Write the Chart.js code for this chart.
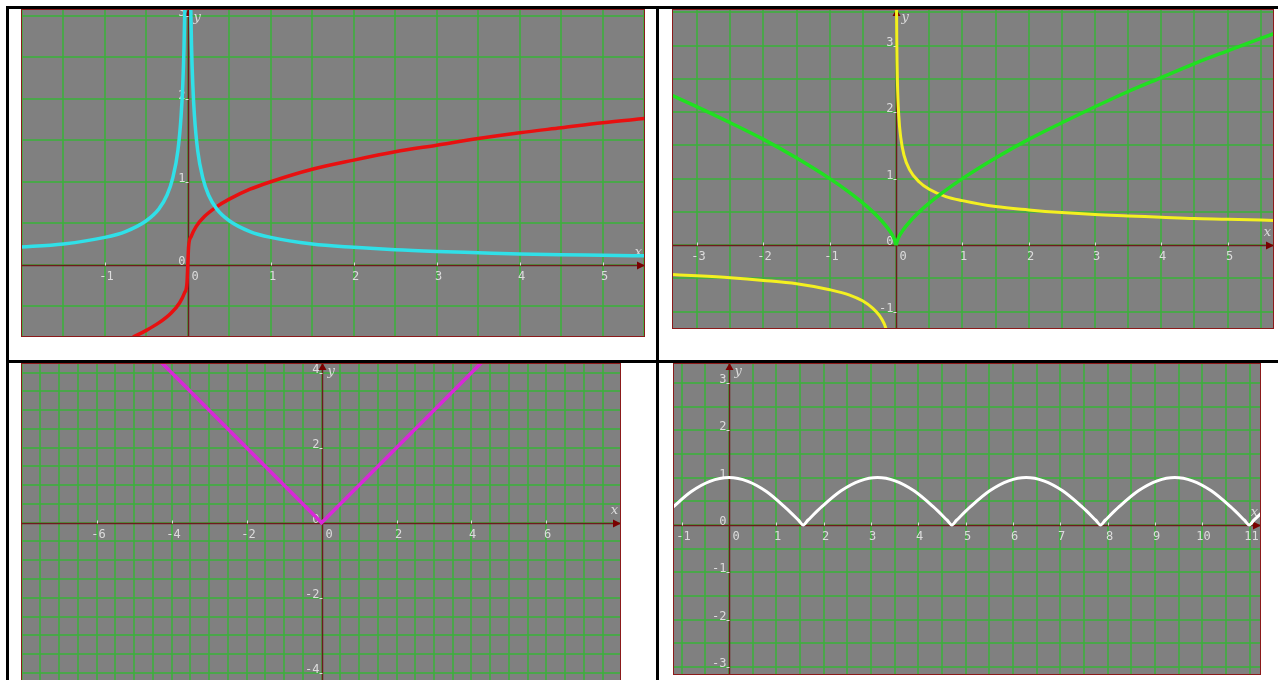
<!DOCTYPE html>
<html>
<head>
<meta charset="utf-8">
<title>Graphs</title>
<script src="https://cdn.jsdelivr.net/npm/chart.js@4.4.1/dist/chart.umd.min.js"></script>
<style>
  html, body { margin: 0; padding: 0; background: #fff; overflow: hidden; }
  body { width: 1278px; height: 680px; position: relative; }
  .rule { position: absolute; background: #000; }
  .plot { position: absolute; }
</style>
</head>
<body>
<div class="rule" style="left:6px;top:6px;width:1272px;height:3px"></div>
<div class="rule" style="left:6px;top:6px;width:3px;height:674px"></div>
<div class="rule" style="left:656px;top:6px;width:3px;height:674px"></div>
<div class="rule" style="left:6px;top:360px;width:1272px;height:3px"></div>

<div class="plot" style="left:21px;top:9px;width:624px;height:328px"><canvas id="g1"></canvas></div>
<div class="plot" style="left:672px;top:9px;width:602px;height:320px"><canvas id="g2"></canvas></div>
<div class="plot" style="left:21px;top:363px;width:600px;height:327px"><canvas id="g3"></canvas></div>
<div class="plot" style="left:673px;top:363px;width:588px;height:312px"><canvas id="g4"></canvas></div>

<script>
// --- data ---
// top left: red curve and cyan curve (two branches)
const redX = [-0.66, -0.5, -0.35, -0.2, -0.1, -0.04, -0.01, 0, 0.01, 0.04, 0.1, 0.2, 0.35, 0.5, 0.75, 1, 1.5, 2, 2.5, 3, 3.5, 4, 4.5, 5, 5.5];
const redY = [-0.87, -0.79, -0.7, -0.58, -0.46, -0.34, -0.22, 0, 0.22, 0.34, 0.46, 0.58, 0.7, 0.79, 0.91, 1, 1.15, 1.26, 1.36, 1.44, 1.52, 1.59, 1.65, 1.71, 1.76];
const cyanLeftX = [-2.05, -1.5, -1, -0.75, -0.5, -0.35, -0.25, -0.18, -0.12, -0.08, -0.06, -0.045, -0.033];
const cyanLeftY = [0.21, 0.25, 0.33, 0.4, 0.53, 0.67, 0.84, 1.05, 1.37, 1.8, 2.18, 2.64, 3.24];
const cyanRightX = [0.033, 0.045, 0.06, 0.08, 0.12, 0.18, 0.25, 0.35, 0.5, 0.75, 1, 1.5, 2, 2.5, 3, 3.5, 4, 4.5, 5, 5.55];
const cyanRightY = [3.24, 2.64, 2.18, 1.8, 1.37, 1.05, 0.84, 0.67, 0.53, 0.4, 0.33, 0.25, 0.21, 0.18, 0.16, 0.145, 0.13, 0.12, 0.115, 0.107];

// top right: green curve (cusp at 0) and yellow curve
const greenLeftX = [-3.4, -3, -2.5, -2, -1.5, -1, -0.7, -0.45, -0.25, -0.1, -0.03, 0];
const greenLeftY = [2.26, 2.08, 1.84, 1.59, 1.31, 1, 0.79, 0.59, 0.4, 0.22, 0.1, 0];
const greenRightX = [0, 0.03, 0.1, 0.25, 0.45, 0.7, 1, 1.5, 2, 2.5, 3, 3.5, 4, 4.5, 5, 5.75];
const greenRightY = [0, 0.1, 0.22, 0.4, 0.59, 0.79, 1, 1.31, 1.59, 1.84, 2.08, 2.31, 2.52, 2.73, 2.92, 3.2];
const yellowLeftX = [-3.4, -3, -2.5, -2, -1.5, -1, -0.7, -0.5, -0.35, -0.25, -0.18, -0.14];
const yellowLeftY = [-0.44, -0.46, -0.49, -0.53, -0.58, -0.67, -0.75, -0.84, -0.95, -1.06, -1.18, -1.29];
const yellowRightX = [0.006, 0.01, 0.02, 0.04, 0.07, 0.12, 0.2, 0.35, 0.5, 0.75, 1, 1.5, 2, 2.5, 3, 3.5, 4, 4.5, 5, 5.75];
const yellowRightY = [3.67, 3.1, 2.46, 1.95, 1.62, 1.35, 1.14, 0.95, 0.84, 0.73, 0.67, 0.58, 0.53, 0.49, 0.46, 0.44, 0.42, 0.4, 0.39, 0.37];

// bottom left: magenta V
const magentaX = [-8, -4, 0, 4, 8];
const magentaY = [8, 4, 0, 4, 8];

// bottom right: white arches
const whiteX = [-1.2, -0.8, -0.4, 0, 0.4, 0.8, 1.2, 1.47, 1.57,
  1.67, 1.97, 2.37, 2.77, 3.14, 3.51, 3.91, 4.31, 4.61, 4.71,
  4.81, 5.11, 5.51, 5.91, 6.28, 6.65, 7.05, 7.45, 7.75, 7.85,
  7.95, 8.25, 8.65, 9.05, 9.42, 9.79, 10.19, 10.59, 10.89, 10.99,
  11.09, 11.3];
const whiteY = [0.36, 0.7, 0.92, 1, 0.92, 0.7, 0.36, 0.1, 0,
  0.1, 0.39, 0.72, 0.93, 1, 0.93, 0.72, 0.39, 0.1, 0,
  0.1, 0.39, 0.72, 0.93, 1, 0.93, 0.72, 0.39, 0.1, 0,
  0.1, 0.39, 0.72, 0.93, 1, 0.93, 0.72, 0.39, 0.1, 0,
  0.1, 0.3];

// tick labels per graph
const ticks1X = [-1, 0, 1, 2, 3, 4, 5];
const ticks1Y = [0, 1, 2, 3];
const ticks2X = [-3, -2, -1, 0, 1, 2, 3, 4, 5];
const ticks2Y = [-1, 0, 1, 2, 3];
const ticks3X = [-6, -4, -2, 0, 2, 4, 6];
const ticks3Y = [-4, -2, 0, 2, 4];
const ticks4X = [-1, 0, 1, 2, 3, 4, 5, 6, 7, 8, 9, 10, 11];
const ticks4Y = [-3, -2, -1, 0, 1, 2, 3];

// --- styles ---
const BG = '#808080';
const GRID = 'rgba(60, 175, 60, 0.8)';
const AXIS = '#6e1c1c';
const ARROW = '#7a0000';
const FRAME = '#8b1a1a';
const LABEL = '#dcdcdc';
const GRID_STEP = 0.5;

function pts(xs, ys) {
    return xs.map((v, i) => ({ x: v, y: ys[i] }));
}

function curve(xs, ys, color, width = 3.5, smooth = true) {
    return {
        data: pts(xs, ys),
        borderColor: color,
        borderWidth: width,
        pointRadius: 0,
        fill: false,
        tension: 0,
        cubicInterpolationMode: smooth ? 'monotone' : 'default',
        clip: 0
    };
}

function axis(min, max) {
    return {
        type: 'linear',
        min: min,
        max: max,
        offset: false,
        ticks: { display: false },
        grid: { color: GRID, lineWidth: 2, drawTicks: false, offset: false },
        border: { display: false },
        // grid lines on every half unit inside the range
        afterBuildTicks: s => {
            const list = [];
            for (let k = Math.ceil(min / GRID_STEP); k * GRID_STEP <= max; k++) {
                list.push({ value: k * GRID_STEP });
            }
            s.ticks = list;
        }
    };
}

// draws the coordinate cross, arrows, tick marks and labels
const mathAxes = {
    id: 'mathAxes',
    beforeDraw(chart) {
        const { ctx, chartArea: a } = chart;
        ctx.save();
        ctx.fillStyle = BG;
        ctx.fillRect(a.left, a.top, a.right - a.left, a.bottom - a.top);
        ctx.restore();
    },
    beforeDatasetsDraw(chart, args, opts) {
        const { ctx, chartArea: a, scales: { x, y } } = chart;
        const x0 = Math.round(x.getPixelForValue(0)) + 0.5;
        const y0 = Math.round(y.getPixelForValue(0)) + 0.5;
        ctx.save();

        ctx.strokeStyle = AXIS;
        ctx.lineWidth = 1.5;
        ctx.beginPath();
        ctx.moveTo(a.left, y0); ctx.lineTo(a.right, y0);
        ctx.moveTo(x0, a.top); ctx.lineTo(x0, a.bottom);
        ctx.stroke();

        ctx.fillStyle = ARROW;
        ctx.beginPath();
        ctx.moveTo(a.right, y0); ctx.lineTo(a.right - 8, y0 - 4); ctx.lineTo(a.right - 8, y0 + 4);
        ctx.closePath(); ctx.fill();
        ctx.beginPath();
        ctx.moveTo(x0, a.top); ctx.lineTo(x0 - 4, a.top + 7); ctx.lineTo(x0 + 4, a.top + 7);
        ctx.closePath(); ctx.fill();

        ctx.font = '12px "DejaVu Sans Mono"';
        ctx.fillStyle = LABEL;
        ctx.strokeStyle = LABEL;
        ctx.lineWidth = 1;

        ctx.textBaseline = 'top';
        opts.xTicks.forEach(v => {
            const px = Math.round(x.getPixelForValue(v)) + 0.5;
            if (v === 0) {
                ctx.textAlign = 'left';
                ctx.fillText('0', x0 + 3, y0 + 5);
                return;
            }
            ctx.beginPath(); ctx.moveTo(px, y0 - 3); ctx.lineTo(px, y0); ctx.stroke();
            ctx.textAlign = 'center';
            ctx.fillText(String(v), px + 1, y0 + 5);
        });

        ctx.textAlign = 'right';
        ctx.textBaseline = 'alphabetic';
        opts.yTicks.forEach(v => {
            const py = Math.round(y.getPixelForValue(v)) + 0.5;
            if (v !== 0) {
                ctx.beginPath(); ctx.moveTo(x0 - 3, py); ctx.lineTo(x0, py); ctx.stroke();
            }
            ctx.fillText(String(v), x0 - 3, py - 1);
        });

        ctx.font = 'italic 13px "DejaVu Serif"';
        ctx.textAlign = 'right';
        ctx.textBaseline = 'bottom';
        ctx.fillText('x', a.right - 3, y0 - 6);
        ctx.textAlign = 'left';
        ctx.textBaseline = 'top';
        ctx.fillText('y', x0 + 5, a.top + 2);
        ctx.restore();
    },
    afterDatasetsDraw(chart) {
        const { ctx, chartArea: a } = chart;
        ctx.save();
        ctx.strokeStyle = FRAME;
        ctx.lineWidth = 1;
        ctx.strokeRect(a.left + 0.5, a.top + 0.5, a.right - a.left - 1, a.bottom - a.top - 1);
        ctx.restore();
    }
};

function makeGraph(id, datasets, xr, yr, xTicks, yTicks) {
    return new Chart(document.getElementById(id), {
        type: 'scatter',
        data: { datasets: datasets },
        options: {
            responsive: true,
            maintainAspectRatio: false,
            animation: false,
            showLine: true,
            layout: { padding: 0 },
            plugins: {
                legend: { display: false },
                tooltip: { enabled: false },
                mathAxes: { xTicks: xTicks, yTicks: yTicks }
            },
            scales: { x: axis(xr[0], xr[1]), y: axis(yr[0], yr[1]) }
        },
        plugins: [mathAxes]
    });
}

makeGraph('g1', [
    curve(cyanLeftX, cyanLeftY, '#30e0e8'),
    curve(cyanRightX, cyanRightY, '#30e0e8'),
    curve(redX, redY, '#e81010')
], [-2.01, 5.51], [-0.87, 3.08], ticks1X, ticks1Y);

makeGraph('g2', [
    curve(greenLeftX, greenLeftY, '#20e020'),
    curve(greenRightX, greenRightY, '#20e020'),
    curve(yellowLeftX, yellowLeftY, '#f4f020', 3),
    curve(yellowRightX, yellowRightY, '#f4f020', 3)
], [-3.38, 5.7], [-1.26, 3.55], ticks2X, ticks2Y);

makeGraph('g3', [
    curve(magentaX, magentaY, '#d828d8', 3.5, false)
], [-8.02, 7.99], [-4.46, 4.26], ticks3X, ticks3Y);

makeGraph('g4', [
    curve(whiteX, whiteY, '#ffffff', 3)
], [-1.18, 11.24], [-3.17, 3.42], ticks4X, ticks4Y);
</script>
</body>
</html>
